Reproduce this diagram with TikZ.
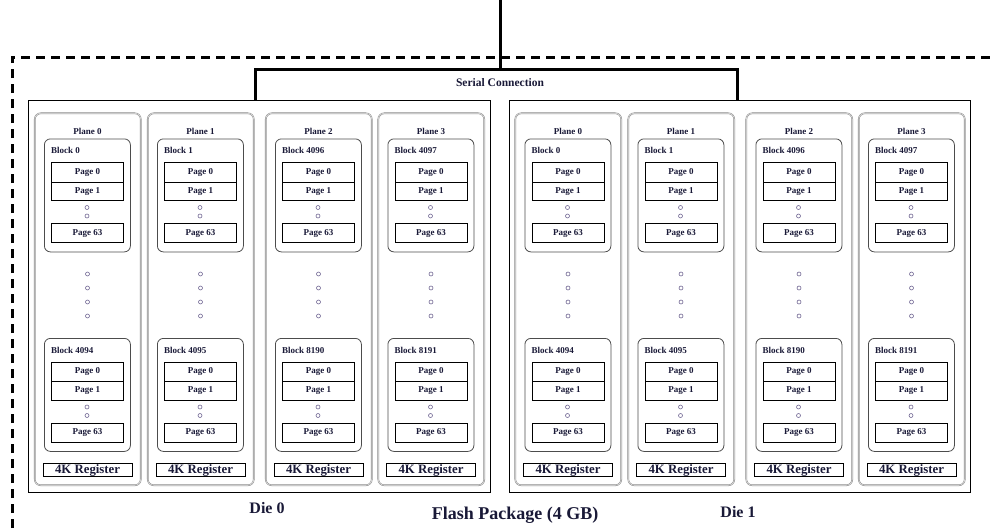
\documentclass[tikz,border=0pt]{standalone}
\usepackage{fontspec}
\setmainfont{Liberation Serif}
\definecolor{ink}{RGB}{25,25,55}
\definecolor{dotc}{RGB}{110,100,145}

% one block: prefix, left x, top y, block number
\newcommand\blockstack[4]{%
  \node[blockbox] (#1) at (#2,#3) {};
  \node[smalltext, anchor=west] (#1t) at (#2+7,#3+12) {Block #4};
  \node[pagebox, minimum height=19.5pt] (#1a) at (#2+7,#3+23.5) {Page 0};
  \node[pagebox, minimum height=18.5pt] (#1b) at (#2+7,#3+43) {Page 1};
  \node[dotmark] (#1d1) at (#2+43,#3+69) {};
  \node[dotmark] (#1d2) at (#2+43,#3+77.5) {};
  \node[pagebox, minimum height=19pt] (#1c) at (#2+7,#3+84.5) {Page 63};
}

\begin{document}
\begin{tikzpicture}[x=1pt,y=-1pt,
  smalltext/.style={font=\fontsize{9}{10}\selectfont\bfseries, text=ink, inner sep=0pt},
  diebox/.style={draw=black, line width=1pt, minimum width=461.5pt,
    minimum height=392pt, anchor=north west, inner sep=0pt},
  planebox/.style={draw=gray!90, double=gray!15, double distance=0.5pt,
    line width=0.55pt, rounded corners=6pt, minimum width=106pt,
    minimum height=372pt, anchor=north west, inner sep=0pt},
  blockbox/.style={draw=black!70, line width=0.8pt, rounded corners=6pt,
    minimum width=86pt, minimum height=113pt, anchor=north west, inner sep=0pt},
  pagebox/.style={draw=black, line width=1.1pt, minimum width=72pt,
    anchor=north west, inner sep=0pt, font=\fontsize{9}{10}\selectfont\bfseries,
    text=ink},
  regbox/.style={draw=black, line width=1.1pt, minimum width=89pt,
    minimum height=13pt, anchor=north west, inner sep=0pt,
    text height=8.6pt, text depth=2.6pt,
    font=\fontsize{12.8}{13}\selectfont\bfseries, text=ink},
  dotmark/.style={circle, draw=dotc, line width=0.6pt, minimum size=4pt,
    inner sep=0pt},
  bus/.style={draw=black, line width=3pt},
  pkgline/.style={draw=black, line width=3pt, dash pattern=on 9pt off 6pt},
  bigtext/.style={font=\fontsize{#1}{#1}\selectfont\bfseries, text=ink,
    inner sep=0pt},
]
\useasboundingbox (0,0) rectangle (992,528);

% package outline (open on right and bottom)
\draw[pkgline] (12,528) -- (12,57) -- (992,57);

% dies, planes, blocks, registers
\foreach \d/\dx in {0/28, 1/508.5} {
  \node[diebox] (die\d) at (\dx,99.5) {};
  \foreach \p/\px/\bu/\bl in {0/6.5/0/4094, 1/119.5/1/4095,
                              2/237.5/4096/8190, 3/350/4097/8191} {
    \pgfmathsetmacro\xl{\dx+\px}
    \node[planebox] (d\d p\p) at (\xl,113) {};
    \node[smalltext] (d\d p\p t) at (\xl+53,131) {Plane \p};
    \blockstack{d\d p\p u}{\xl+9.5}{138.5}{\bu}
    \foreach \k/\yy in {1/274, 2/288, 3/302, 4/316}
      \node[dotmark] (d\d p\p m\k) at (\xl+53,\yy) {};
    \blockstack{d\d p\p l}{\xl+9.5}{338}{\bl}
    \node[regbox] (d\d p\p r) at (\xl+8,463) {4K Register};
  }
}

% serial connection to both dies
\coordinate (feed) at (500,0);
\coordinate (hub) at (500,69);
\draw[bus] (feed) -- (hub);
\draw[bus, line cap=rect] ([xshift=227pt]die0.north west) |- (hub)
  -| ([xshift=228.5pt]die1.north west);
\node[bigtext=11.5] (serial) at (500,83) {Serial Connection};

% captions
\node[bigtext=16] (die0t) at (267,508) {Die 0};
\node[bigtext=16] (die1t) at (738,512) {Die 1};
\node[bigtext=18] (pkg) at (515,515) {Flash Package (4 GB)};
\end{tikzpicture}
\end{document}
